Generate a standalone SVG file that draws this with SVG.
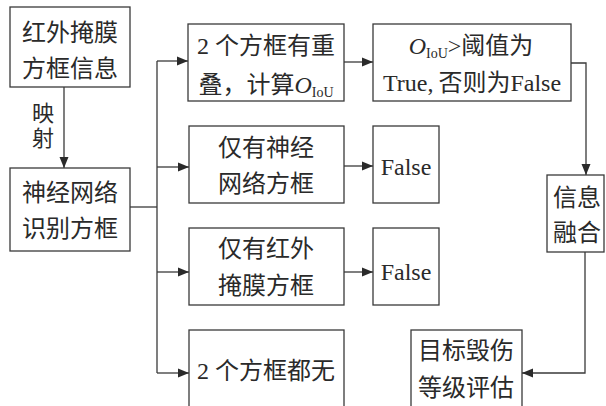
<svg xmlns="http://www.w3.org/2000/svg" width="606" height="406" viewBox="0 0 606 406">
<style>
rect{fill:#fff;stroke:#3a3a3a;stroke-width:1.3}
text{font-family:"Liberation Serif","Noto Sans CJK SC",serif;font-size:24px;fill:#2a2a2a;text-anchor:middle}
.lbl{font-size:22px}
.sub{font-size:14px}
.c path{fill:none;stroke:#3a3a3a;stroke-width:1.3}
</style>
<defs>
<marker id="a" markerUnits="userSpaceOnUse" markerWidth="12" markerHeight="10" refX="11" refY="5" orient="auto">
<path d="M0,0.5 L11,5 L0,9.5 z" fill="#2a2a2a"/>
</marker>
</defs>
<rect x="0" y="0" width="606" height="406" style="fill:#fff;stroke:none"/>
<g class="c" id="connectors">
<path d="M64,87 V168" marker-end="url(#a)"/>
<path d="M130,207 H157"/>
<path d="M157,61 V373"/>
<path d="M157,61 H188" marker-end="url(#a)"/>
<path d="M157,167 H189" marker-end="url(#a)"/>
<path d="M157,272 H189" marker-end="url(#a)"/>
<path d="M157,373 H189" marker-end="url(#a)"/>
<path d="M344,62 H373" marker-end="url(#a)"/>
<path d="M344,166 H373" marker-end="url(#a)"/>
<path d="M344,272 H373" marker-end="url(#a)"/>
<path d="M571,63 H586 V175" marker-end="url(#a)"/>
<path d="M585,252 V373 H522" marker-end="url(#a)"/>
</g>
<g id="label-map">
<text class="lbl" x="43" y="121">映</text>
<text class="lbl" x="43" y="146">射</text>
</g>
<g id="n-ir">
<rect x="10" y="7" width="120" height="80"/>
<text x="70" y="41">红外掩膜</text>
<text x="70" y="77">方框信息</text>
</g>
<g id="n-nn">
<rect x="10" y="168" width="120" height="83"/>
<text x="70" y="201">神经网络</text>
<text x="70" y="237">识别方框</text>
</g>
<g id="n-overlap">
<rect x="188" y="24" width="156" height="77"/>
<text x="266" y="54">2 个方框有重</text>
<text x="266" y="93">叠，计算<tspan font-style="italic">O</tspan><tspan class="sub" dy="4">IoU</tspan></text>
</g>
<g id="n-iou">
<rect x="373" y="24" width="198" height="77"/>
<text x="471" y="54"><tspan font-style="italic">O</tspan><tspan class="sub" dy="4">IoU</tspan><tspan dy="-4">&gt;阈值为</tspan></text>
<text x="472" y="91">True,<tspan dx="5">否则为False</tspan></text>
</g>
<g id="n-onlynn">
<rect x="189" y="126" width="155" height="77"/>
<text x="266" y="156">仅有神经</text>
<text x="266" y="192">网络方框</text>
</g>
<g id="n-false1">
<rect x="373" y="126" width="66" height="77"/>
<text x="406" y="175">False</text>
</g>
<g id="n-onlyir">
<rect x="189" y="228" width="155" height="77"/>
<text x="266" y="257">仅有红外</text>
<text x="266" y="294">掩膜方框</text>
</g>
<g id="n-false2">
<rect x="373" y="228" width="66" height="77"/>
<text x="406" y="280">False</text>
</g>
<g id="n-none">
<rect x="189" y="330" width="155" height="90"/>
<text x="266" y="379">2 个方框都无</text>
</g>
<g id="n-fusion">
<rect x="547" y="175" width="57" height="77"/>
<text x="577" y="206">信息</text>
<text x="577" y="241">融合</text>
</g>
<g id="n-assess">
<rect x="411" y="330" width="111" height="90"/>
<text x="466" y="359">目标毁伤</text>
<text x="466" y="396">等级评估</text>
</g>
</svg>
